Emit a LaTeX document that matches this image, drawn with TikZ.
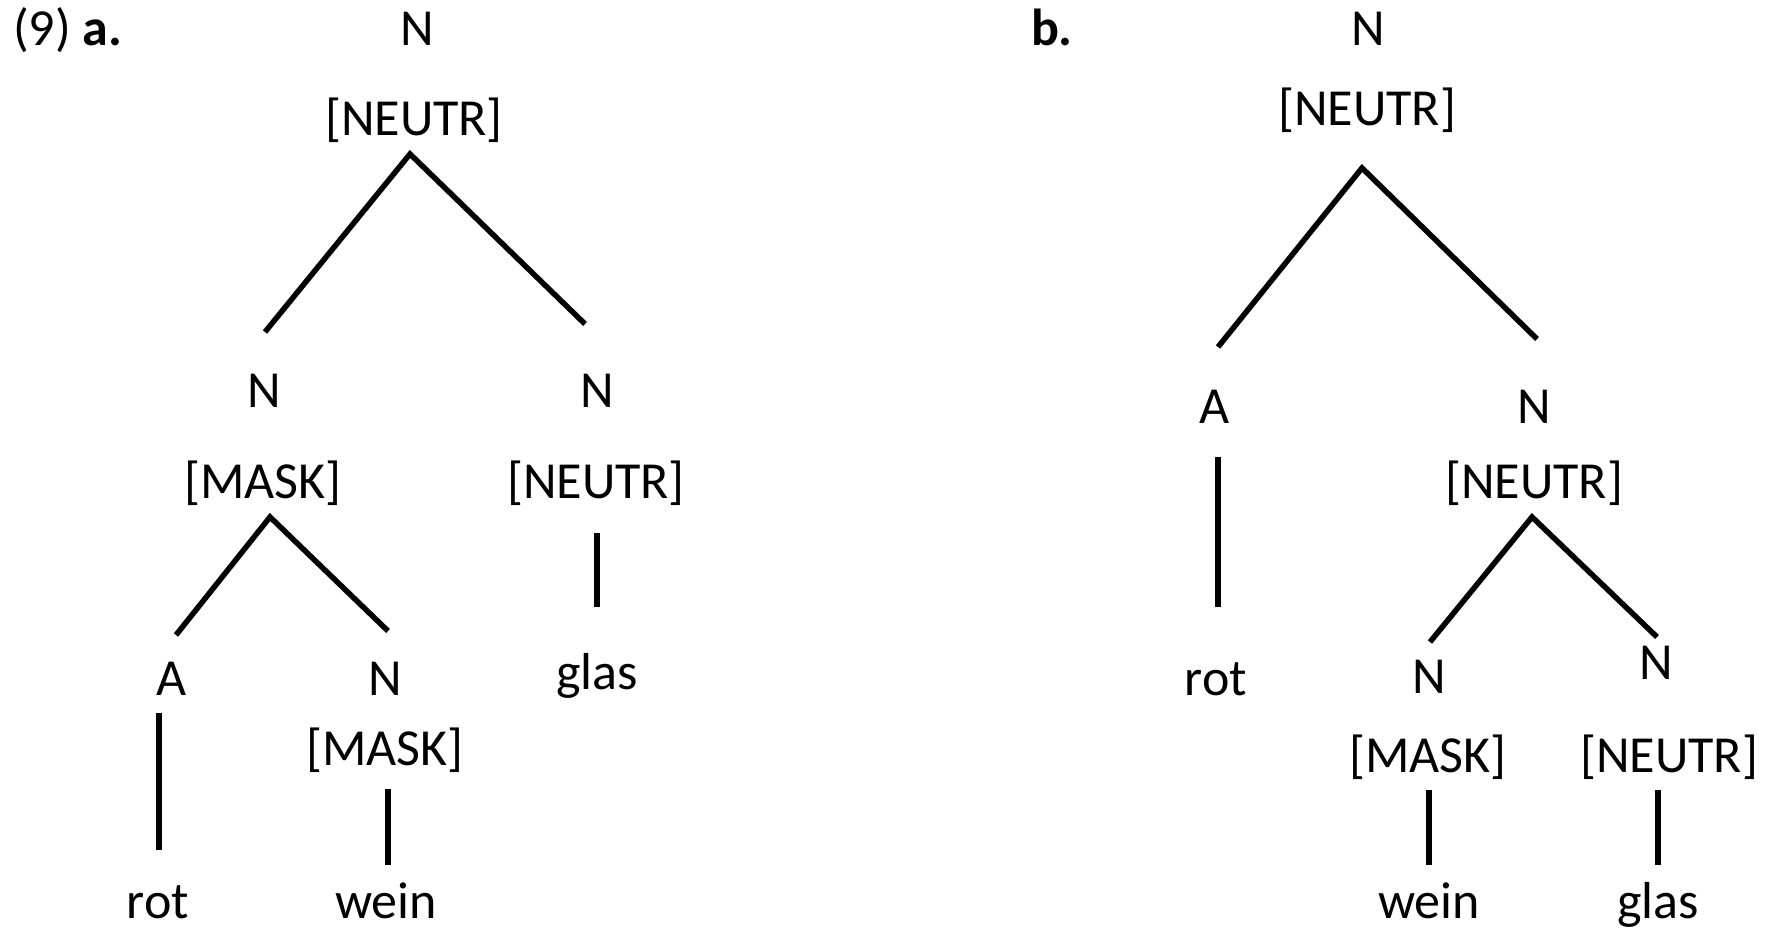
\documentclass[tikz,border=0pt]{standalone}
\usepackage{fontspec}
\setmainfont{Carlito}
\begin{document}
\begin{tikzpicture}[x=1pt,y=-1pt,
  lbl/.style={anchor=base,inner sep=0pt,outer sep=0pt,font=\fontsize{52}{60}\selectfont},
  edge/.style={line width=5.5pt,line cap=butt}]
\useasboundingbox (0,0) rectangle (1777,929);
% ---------- tree a ----------
\node[lbl,anchor=base west] (la) at (13,45) {(9) \textbf{a.}};
\node[lbl] (aN) at (417,45) {N};
\node[lbl] (aNf) at (414,135) {[NEUTR]};
\node[lbl] (aL) at (264,407) {N};
\node[lbl] (aLf) at (263,498) {[MASK]};
\node[lbl] (aR) at (597,407) {N};
\node[lbl] (aRf) at (596,498) {[NEUTR]};
\node[lbl] (aglas) at (597,689) {glas};
\node[lbl] (aA) at (172,695) {A};
\node[lbl] (aN2) at (385,695) {N};
\node[lbl] (aN2f) at (385,765) {[MASK]};
\node[lbl] (arot) at (158,918) {rot};
\node[lbl] (awein) at (386,918) {wein};
\coordinate (a1) at (410,154);
\coordinate (a1l) at (265,332);
\coordinate (a1r) at (585,324);
\coordinate (a2) at (270,517);
\coordinate (a2l) at (176,635);
\coordinate (a2r) at (388,631);
\coordinate (a3t) at (597,533);
\coordinate (a3b) at (597,607);
\coordinate (a4t) at (159,713);
\coordinate (a4b) at (159,850);
\coordinate (a5t) at (388,789);
\coordinate (a5b) at (388,865);
\draw[edge] (a1l) -- (a1) -- (a1r);
\draw[edge] (a2l) -- (a2) -- (a2r);
\draw[edge] (a3t) -- (a3b);
\draw[edge] (a4t) -- (a4b);
\draw[edge] (a5t) -- (a5b);
% ---------- tree b ----------
\node[lbl,anchor=base west] (lb) at (1031,45) {\textbf{b.}};
\node[lbl] (bN) at (1368,45) {N};
\node[lbl] (bNf) at (1367,125) {[NEUTR]};
\node[lbl] (bA) at (1215,423) {A};
\node[lbl] (bR) at (1534,423) {N};
\node[lbl] (bRf) at (1534,498) {[NEUTR]};
\node[lbl] (brot) at (1216,695) {rot};
\node[lbl] (bN1) at (1429,693) {N};
\node[lbl] (bN2) at (1656,679) {N};
\node[lbl] (bN1f) at (1428,772) {[MASK]};
\node[lbl] (bN2f) at (1669,772) {[NEUTR]};
\node[lbl] (bwein) at (1429,918) {wein};
\node[lbl] (bglas) at (1658,918) {glas};
\coordinate (b1) at (1362,168);
\coordinate (b1l) at (1218,347);
\coordinate (b1r) at (1537,339);
\coordinate (b2t) at (1218,457);
\coordinate (b2b) at (1218,607);
\coordinate (b3) at (1532,517);
\coordinate (b3l) at (1430,642);
\coordinate (b3r) at (1657,637);
\coordinate (b4t) at (1429,790);
\coordinate (b4b) at (1429,865);
\coordinate (b5t) at (1658,790);
\coordinate (b5b) at (1658,865);
\draw[edge] (b1l) -- (b1) -- (b1r);
\draw[edge] (b2t) -- (b2b);
\draw[edge] (b3l) -- (b3) -- (b3r);
\draw[edge] (b4t) -- (b4b);
\draw[edge] (b5t) -- (b5b);
\end{tikzpicture}
\end{document}
